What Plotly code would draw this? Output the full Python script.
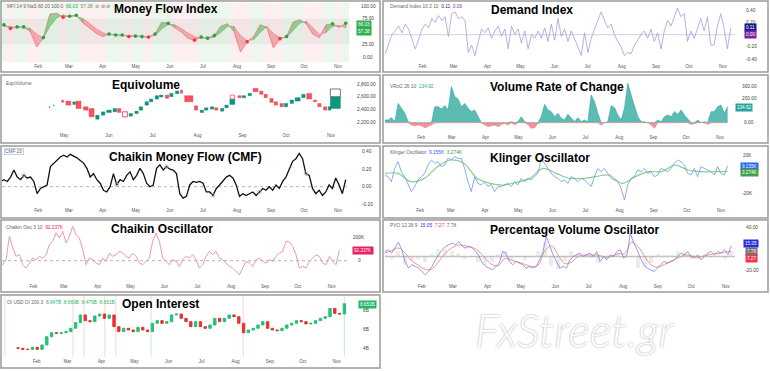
import numpy as np
import pandas as pd
import plotly.graph_objects as go

W, H = 770, 371
FONT = "Liberation Sans, Arial, sans-serif"

# ======================= DATA =======================
months_main = ["2023-02-01", "2023-03-01", "2023-04-01", "2023-05-01", "2023-06-01",
               "2023-07-01", "2023-08-01", "2023-09-01", "2023-10-01", "2023-11-01"]
months_equi = ["2023-05-01", "2023-06-01", "2023-07-01", "2023-08-01", "2023-09-01",
               "2023-10-01", "2023-11-01"]

# Money Flow Index
mfi_start, mfi_end = "2023-01-01", "2023-11-08"
mfi = [63, 56, 59, 59, 50, 20, 38, 84, 86, 78, 80, 82, 67, 57, 47, 40, 45, 43, 43, 40,
       41, 40, 39, 45, 68, 66, 58, 49, 37, 33, 39, 37, 42, 60, 65, 50, 10, 30, 40, 63,
       58, 18, 36, 40, 68, 73, 65, 45, 38, 63, 65, 58, 66.03]
mfi_signal = [60, 60, 58, 58, 56, 45, 37, 60, 76, 83, 80, 80, 76, 66, 56, 48, 44, 43, 43, 42,
              41, 40, 40, 42, 55, 64, 63, 56, 47, 40, 37, 37, 39, 48, 60, 60, 42, 32, 34, 48,
              60, 46, 38, 38, 52, 66, 70, 58, 44, 48, 60, 62, 57.38]
mfi_dot_idx = [0, 1, 2, 3, 6, 9, 10, 11, 16, 17, 18, 19, 20, 21, 22, 23, 25, 29, 30, 31, 32,
               37, 42, 43, 50, 52]

# Demand Index
dmd_start, dmd_end = "2022-12-29", "2023-11-08"
demand = [-0.31, -0.17, 0.00, 0.06, 0.14, 0.03, 0.17, 0.09, -0.06, -0.23,
          -0.09, 0.09, 0.17, 0.11, 0.26, 0.20, 0.31, 0.23, 0.29, -0.03,
          0.34, 0.37, 0.26, 0.29, 0.23, -0.29, -0.17, -0.34, -0.11, 0.09,
          0.03, 0.11, -0.06, 0.06, 0.14, -0.03, 0.09, -0.23, 0.14, 0.00,
          0.09, -0.14, 0.06, -0.23, 0.00, -0.06, 0.06, -0.06, 0.11, -0.11,
          0.17, -0.09, 0.26, -0.03, 0.09, -0.11, 0.06, -0.06, -0.20, -0.34,
          0.03, -0.29, -0.06, 0.09, 0.23, 0.37, 0.23, 0.11, 0.17, 0.00,
          -0.11, -0.20, -0.34, -0.29, -0.31, -0.17, -0.09, 0.00, 0.06, -0.06,
          0.09, -0.11, 0.03, -0.23, 0.06, 0.23, 0.14, 0.29, 0.43, 0.29,
          0.34, -0.11, 0.06, -0.06, 0.11, 0.26, 0.06, 0.29, -0.17, -0.17,
          0.14, 0.34, 0.11, -0.23, 0.11]

# Equivolume boxes (high/low range, width = volume)
eq_dates = ["2023-04-21", "2023-04-24", "2023-04-30", "2023-05-04", "2023-05-08", "2023-05-11",
            "2023-05-16", "2023-05-20", "2023-05-24", "2023-05-28", "2023-06-01", "2023-06-05",
            "2023-06-08", "2023-06-12", "2023-06-16", "2023-06-20", "2023-06-23", "2023-06-27",
            "2023-06-30", "2023-07-04", "2023-07-07", "2023-07-11", "2023-07-14", "2023-07-18",
            "2023-07-21", "2023-07-26", "2023-07-31", "2023-08-04", "2023-08-07", "2023-08-11",
            "2023-08-14", "2023-08-18", "2023-08-21", "2023-08-25", "2023-08-30", "2023-09-02",
            "2023-09-06", "2023-09-10", "2023-09-14", "2023-09-17", "2023-09-21", "2023-09-24",
            "2023-09-28", "2023-10-01", "2023-10-05", "2023-10-09", "2023-10-13", "2023-10-17",
            "2023-10-21", "2023-10-24", "2023-10-28", "2023-10-31", "2023-11-04"]
eq_high = [2445, 2475, 2551, 2535, 2524, 2535, 2445, 2418, 2312, 2365, 2392, 2418, 2418,
           2365, 2339, 2376, 2445, 2524, 2567, 2620, 2630, 2630, 2657, 2694, 2710, 2620,
           2461, 2392, 2429, 2445, 2429, 2418, 2471, 2567, 2620, 2620, 2657, 2736, 2694,
           2641, 2577, 2524, 2498, 2498, 2551, 2588, 2641, 2657, 2551, 2498, 2445, 2445, 2604]
eq_low = [2435, 2465, 2514, 2471, 2482, 2418, 2392, 2286, 2249, 2312, 2355, 2365, 2355,
          2286, 2297, 2339, 2392, 2471, 2524, 2567, 2599, 2577, 2604, 2652, 2657, 2524,
          2392, 2355, 2392, 2408, 2392, 2376, 2429, 2482, 2588, 2588, 2620, 2683, 2641,
          2588, 2514, 2471, 2445, 2445, 2498, 2535, 2588, 2567, 2524, 2445, 2392, 2392, 2418]
eq_up = [1, 1, 0, 0, 1, 0, 0, 0, 1, 1, 1, 1, 0, 0, 1, 1, 1, 1, 1, 1, 1, 0, 1, 1, 0, 0, 0,
         1, 1, 1, 0, 1, 1, 1, 0, 1, 1, 0, 0, 0, 0, 0, 0, 1, 1, 1, 1, 0, 0, 0, 0, 1, 1]
eq_volume = [3, 3, 6, 15, 8, 15, 14, 15, 10, 10, 14, 10, 10, 15, 10, 10, 10, 10, 10, 10, 10,
             10, 10, 10, 6, 25, 10, 10, 10, 10, 10, 10, 10, 15, 10, 10, 10, 15, 10, 10, 10,
             10, 10, 10, 10, 15, 10, 15, 10, 10, 10, 8, 30]
eqh_dates = ["2023-06-12", "2023-08-25", "2023-11-04"]
eqh_high = [2365, 2630, 2726]
eqh_low = [2286, 2567, 2604]
eqh_volume = [15, 12, 30]
eqh_up = [0, 0, 1]

# Volume Rate of Change
vroc_start, vroc_end = "2022-12-30", "2023-11-08"
vroc = [22, 22, 42, 8, 161, 120, 78, 8, -19, -25, -19, -25, -42, -33, -19, 133, 133, 114, 142, 106,
        300, 217, 197, 133, 161, 120, 92, 106, 50, 0, -19, -33, -25, -19, -33, -14, -6, -19, 8, -19,
        8, 50, 8, -14, -47, -42, -6, 50, 153, 106, 92, 50, 78, 36, 22, 70, 36, 8, 42, 8,
        22, 8, 231, 175, 78, -19, 0, 8, 142, 125, 64, 22, 120, 328, 231, 133, 50, 8, 8, 0,
        -19, -47, 22, 8, 50, 64, 50, 92, 70, 106, 64, 36, -14, -6, 22, 0, 8, -14, 92, 92,
        133, 147, 78, 134.62]

# Chaikin Money Flow
cmf_start, cmf_end = "2022-12-29", "2023-11-08"
cmf = [0.06, 0.08, 0.06, 0.11, 0.19, 0.11, 0.08, 0.13, 0.10, 0.11,
       0.06, -0.08, -0.02, 0.00, 0.02, 0.23, 0.27, 0.30, 0.34, 0.36,
       0.34, 0.37, 0.35, 0.33, 0.30, 0.27, 0.21, 0.11, 0.15, 0.08,
       0.04, -0.04, -0.06, 0.00, 0.15, 0.02, 0.08, 0.06, 0.13, 0.17,
       0.08, 0.13, 0.21, 0.15, 0.04, 0.00, 0.02, 0.21, 0.25, 0.19,
       0.23, 0.20, 0.19, 0.15, -0.08, -0.13, -0.11, 0.02, 0.06, 0.05,
       0.06, 0.04, -0.06, -0.06, -0.10, -0.02, 0.02, 0.06, 0.11, 0.13,
       0.10, 0.02, -0.11, -0.08, -0.10, -0.08, -0.06, -0.10, -0.06, -0.02,
       -0.04, 0.00, -0.04, 0.02, -0.02, 0.06, 0.11, 0.21, 0.29, 0.32,
       0.38, 0.32, 0.15, 0.13, -0.02, -0.08, -0.04, -0.10, -0.06, 0.02,
       -0.02, 0.10, 0.02, -0.08, 0.08]
cmf_mark_idx = [7, 35, 50, 64, 78, 92]

# Klinger Oscillator (thousands)
kl_start, kl_end = "2022-12-31", "2023-11-07"
klinger = [-0.5, -2.3, -7.6, 6.5, 13.6, 3.0, -2.3, -11.2, -18.2, -12.9,
           -5.8, -2.3, 1.2, 10.1, 15.4, 11.9, 13.6, 8.3, 10.1, 17.2,
           15.4, 18.9, 17.2, 17.2, 6.5, -7.6, -18.2, -2.3, -9.4, -11.2,
           -7.6, -12.9, -10.4, -18.2, -12.9, -12.9, -11.2, -9.4, -12.9, -7.6,
           -11.2, -4.1, -7.6, -4.1, -5.8, -2.3, 1.2, 17.2, 11.9, 6.5,
           1.2, -2.3, -4.1, -7.6, -5.8, -9.4, -2.3, -4.1, -7.6, -4.1,
           -5.8, -9.4, -12.9, -2.3, 6.5, 3.0, 6.5, 1.2, -4.1, -5.8,
           -7.6, -14.7, -27.1, -11.2, -4.1, -2.3, 4.8, 3.0, 6.5, 1.2,
           3.0, -2.3, -0.5, 6.5, 4.8, 3.0, 6.5, 11.9, 15.4, 13.6,
           10.1, 1.2, -0.5, 6.5, -2.3, 8.3, 6.5, 4.8, 3.0, -0.5,
           8.3, 1.2, -0.5, 9.155]
klinger_signal = [1.2, 1.2, -7.6, -4.1, 8.3, 15.4, 11.9, -4.1, -9.4, -11.2, -8.3, -4.1, 6.5,
                  1.2, -4.1, -4.1, -2.3, -0.5, -9.4, -2.3, 3.0, 3.0, 10.1, 4.8, 3.0, 3.0, 3.274]

# Chaikin Oscillator (thousands)
cho_start, cho_end = "2023-01-01", "2023-11-08"
chaikin = [-21, -35, 9, 215, 112, 38, 53, -35, -65, -21,
           24, 9, 38, 24, 53, 141, 171, 244, 200, 259,
           156, 215, 303, 229, 200, 97, -35, 24, 9, -21,
           -35, 24, -6, 68, 38, 53, 82, 68, 38, 24,
           68, 38, -21, -35, -6, 24, 171, 244, 171, 24,
           -6, -35, 9, -6, -50, 9, 38, 24, 53, 9,
           -65, -35, 38, 82, 53, 82, 24, 9, -21, -50,
           -65, -94, -123, -65, -6, -21, -50, 9, 24, -6,
           -21, 9, -6, 38, 68, 82, 171, 165, 126, 53,
           -65, -50, -65, -6, 24, 53, 38, -21, -35, 38,
           -6, -35, 92.237]

# Percentage Volume Oscillator
pvo_start, pvo_end = "2022-12-30", "2023-11-06"
pvo = [7, 9.4, 4.7, 11.7, 20.1, 9.4, -7, -16.4, -11.7, -14,
       -16.4, -21, -25.7, -21, -14, -4.7, 2.3, 9.4, 14, 16.4,
       18.7, 16.4, 21, 14, 11.7, 14, 11.7, 7, 0, -9.4,
       -14, -16.4, -18.7, -14, -9.4, 7, 4.7, -7, -11.7, -7,
       -9.4, -11.7, -16.4, -14, -16.4, -14, -4.7, 7, 28, 14,
       2.3, -7, -16.4, -14, -16.4, -4.7, 0, 2.3, 4.7, 0,
       2.3, 4.7, 0, 7, -7, 0, -4.7, 2.3, 0, 7,
       9.4, -2.3, 2.3, 32.8, 18.7, 9.4, -2.3, -11.7, -16.4, -18.7,
       -21, -16.4, -11.7, -7, -9.4, -7, -4.7, 0, 4.7, 2.3,
       7, 0, -2.3, 2.3, -4.7, 0, 4.7, 7, 2.3, 7,
       4.7, 9.4, 2.3, 15.05]
pvo_signal = [5, 8, 12, 5, -6, -12, -18, -18, -8, 4, 12, 16, 15, 13, 8, -2, -11, -13, -3, -5,
              -8, -11, -14, -12, 8, 15, 2, -10, -8, 0, 2, 2, 2, -1, 0, 4, 4, 20, 14, 0,
              -12, -15, -11, -7, -2, 2, 1, -1, 1, 3, 4, 6, 7.27]
pvo_hist = [2, -3, 8, -12, -6, -4, -8, 4, 10, 10, 7, 5, -3, -1, -8, -12, -8, 4, 8, -7,
            -1, -5, -2, 7, 20, -13, -18, -6, 8, 5, 0, -2, -9, -4, 0, 5, -2, -1, -16, -16,
            -9, 3, 2, 2, 7, 5, -3, -4, 4, -1, 1, -4, 7.78]

# Open Interest (billions USD)
oi_start, oi_end = "2023-01-15", "2023-11-08"
oi_close = [4.0, 3.89, 3.89, 4.1, 3.89, 4.35, 5.2, 5.63, 5.56, 5.63, 5.74, 6.09, 6.68, 7.48,
            6.89, 6.78, 7.37, 7.58, 7.13, 7.48, 6.26, 5.74, 6.09, 5.91, 5.74, 6.19, 5.91, 5.74,
            6.61, 6.89, 6.61, 6.78, 7.48, 7.58, 7.13, 6.78, 6.26, 6.78, 6.26, 6.09, 6.43, 7.13,
            6.78, 7.13, 7.48, 7.3, 6.61, 5.63, 5.91, 6.09, 6.43, 6.78, 6.09, 5.91, 5.84, 6.09,
            6.43, 6.61, 6.89, 6.78, 6.54, 6.61, 6.89, 7.13, 7.3, 8.17, 7.65, 7.58, 8.651]
oi_open_first = 4.05
oi_events_down = ["2023-01-03", "2023-03-06", "2023-03-16", "2023-04-04", "2023-04-14", "2023-08-08"]
oi_events_up = ["2023-05-16", "2023-11-08"]

# ======================= LAYOUT HELPERS =======================
PANELS = [
    dict(box=(1, 1, 380, 72), px=(2, 350), py=(3, 62), xcal=(("2023-02-01", 38), ("2023-11-01", 338)),
         ycal=((100, 6), (0, 57)), months=months_main, ylab_x=368),
    dict(box=(383, 1, 768, 72), px=(385, 735), py=(3, 62), xcal=(("2023-02-01", 422.7), ("2023-11-01", 723)),
         ycal=((0.4, 10), (-0.4, 59.3)), months=months_main, ylab_x=751),
    dict(box=(1, 75, 380, 143), px=(2, 350), py=(76, 131), xcal=(("2023-05-01", 64), ("2023-11-01", 331)),
         ycal=((2800, 84.3), (2200, 122.3)), months=months_equi, ylab_x=366),
    dict(box=(383, 75, 768, 143), px=(385, 735), py=(76, 133), xcal=(("2023-02-01", 421), ("2023-11-01", 720)),
         ycal=((300, 86.7), (0, 122.7)), months=months_main, ylab_x=749),
    dict(box=(1, 146, 380, 218), px=(2, 350), py=(147, 206), xcal=(("2023-02-01", 38), ("2023-11-01", 338)),
         ycal=((0.4, 151.7), (0.0, 186.7)), months=months_main, ylab_x=367),
    dict(box=(383, 146, 768, 218), px=(385, 735), py=(147, 206), xcal=(("2023-02-01", 420), ("2023-11-01", 721)),
         ycal=((20, 155.7), (-20, 193.3)), months=months_main, ylab_x=747),
    dict(box=(1, 220, 380, 292), px=(2, 350), py=(221, 282), xcal=(("2023-02-01", 33.3), ("2023-11-01", 331.7)),
         ycal=((200, 238), (0, 260.7)), months=months_main, ylab_x=359),
    dict(box=(383, 220, 768, 292), px=(385, 735), py=(221, 282), xcal=(("2023-02-01", 421.7), ("2023-11-01", 725.7)),
         ycal=((40, 228), (-20, 270.7)), months=months_main, ylab_x=752),
    dict(box=(1, 295, 380, 368), px=(2, 350), py=(296, 357), xcal=(("2023-02-01", 36.7), ("2023-11-01", 336.7)),
         ycal=((8, 310), (4, 348.3)), months=months_main, ylab_x=366),
]


def xdate(cal, p):
    (d1, p1), (d2, p2) = cal
    t1, t2 = pd.Timestamp(d1), pd.Timestamp(d2)
    return t1 + (t2 - t1) * ((p - p1) / (p2 - p1))


def yval(cal, p):
    (v1, p1), (v2, p2) = cal
    return v1 + (v2 - v1) * (p - p1) / (p2 - p1)


def ax(k, letter):
    return letter if k == 1 else f"{letter}{k}"


def step_ms(start, end, n):
    return (pd.Timestamp(end) - pd.Timestamp(start)).total_seconds() * 1000 / (n - 1)


DAY_MS = 86400000.0
fig = go.Figure()
annotations = []
shapes = []


def ann_px(x, y, text, size=4.8, color="#666", xanchor="left", yanchor="middle", **kw):
    d = dict(x=x / W, y=1 - y / H, xref="paper", yref="paper", text=text, showarrow=False,
             xanchor=xanchor, yanchor=yanchor, font=dict(size=size, color=color, family=FONT))
    d.update(kw)
    return d


def value_box(x, y, text, bg):
    return ann_px(x, y, text, size=4.6, color="white", xanchor="center", bgcolor=bg, borderpad=1)


def ytick(k, value, text):
    P = PANELS[k - 1]
    return dict(x=P["ylab_x"] / W, xref="paper", y=value, yref=ax(k, "y"), text=text, showarrow=False,
                xanchor="center", yanchor="middle", font=dict(size=4.8, color="#444", family=FONT))


def hline(k, y, color, width=1, dash="solid"):
    return dict(type="line", xref=f"{ax(k, 'x')} domain", yref=ax(k, "y"), x0=0, x1=1, y0=y, y1=y,
                line=dict(color=color, width=width, dash=dash), layer="below")


# ======================= 1. MFI =======================
mfi_d = pd.date_range(mfi_start, mfi_end, periods=len(mfi))
mstep = step_ms(mfi_start, mfi_end, len(mfi))
mfi_up = [a >= b for a, b in zip(mfi, mfi_signal)]
fig.add_trace(go.Bar(x=mfi_d, y=[116] * len(mfi), base=-10, width=mstep,
                     marker=dict(color=["rgba(76,175,80,0.10)" if u else "rgba(242,54,69,0.08)" for u in mfi_up],
                                 line=dict(width=0)), xaxis="x", yaxis="y", hoverinfo="skip"))
shapes.append(dict(type="rect", xref="x domain", yref="y", x0=0, x1=1, y0=25, y1=75,
                   fillcolor="rgba(120,120,120,0.08)", line=dict(width=0), layer="below"))
start = 0
n = len(mfi)
for i in range(1, n + 1):
    if i == n or mfi_up[i] != mfi_up[start]:
        end = min(i, n - 1)
        idx = list(range(start, end + 1))
        xs = [mfi_d[j] for j in idx] + [mfi_d[j] for j in reversed(idx)]
        ys = [mfi[j] for j in idx] + [mfi_signal[j] for j in reversed(idx)]
        up = mfi_up[start]
        fig.add_trace(go.Scatter(x=xs, y=ys, fill="toself", mode="lines",
                                 fillcolor="rgba(76,175,80,0.55)" if up else "rgba(242,54,69,0.35)",
                                 line=dict(width=0.6, color="rgba(76,175,80,0.8)" if up else "rgba(242,54,69,0.5)"),
                                 xaxis="x", yaxis="y", hoverinfo="skip"))
        start = i
fig.add_trace(go.Scatter(x=mfi_d, y=mfi, mode="lines", line=dict(color="#ef8a8a", width=0.8),
                         xaxis="x", yaxis="y"))
fig.add_trace(go.Scatter(x=[mfi_d[i] for i in mfi_dot_idx], y=[mfi[i] for i in mfi_dot_idx], mode="markers",
                         marker=dict(size=3.6, color=["#2e9d48" if mfi_up[i] else "#f23645" for i in mfi_dot_idx]),
                         xaxis="x", yaxis="y"))

# ======================= 2. Demand Index =======================
dmd_d = pd.date_range(dmd_start, dmd_end, periods=len(demand))
shapes.append(hline(2, 0, "#d6d2ea", 1))
fig.add_trace(go.Scatter(x=dmd_d, y=demand, mode="lines", line=dict(color="#a59cdc", width=0.8),
                         xaxis="x2", yaxis="y2"))

# ======================= 3. Equivolume =======================
EQ_DAYS_PER_VOL = 0.23
fig.add_trace(go.Bar(x=eq_dates, y=[h - l for h, l in zip(eq_high, eq_low)], base=eq_low,
                     width=[v * EQ_DAYS_PER_VOL * DAY_MS for v in eq_volume],
                     marker=dict(color=["#089981" if u else "#f7525f" for u in eq_up],
                                 line=dict(width=0.4, color=["#067a67" if u else "#e0434f" for u in eq_up])),
                     xaxis="x3", yaxis="y3"))
fig.add_trace(go.Bar(x=eqh_dates, y=[h - l for h, l in zip(eqh_high, eqh_low)], base=eqh_low,
                     width=[v * EQ_DAYS_PER_VOL * DAY_MS for v in eqh_volume],
                     marker=dict(color="white",
                                 line=dict(width=0.8, color=["#555555" if u else "#f7525f" for u in eqh_up])),
                     xaxis="x3", yaxis="y3"))

# ======================= 4. VROC =======================
vroc_d = pd.date_range(vroc_start, vroc_end, periods=len(vroc))
vr = np.array(vroc, dtype=float)
fig.add_trace(go.Scatter(x=vroc_d, y=np.maximum(vr, 0), mode="lines", fill="tozeroy",
                         fillcolor="rgba(38,166,154,0.75)", line=dict(color="#26a69a", width=0.6),
                         xaxis="x4", yaxis="y4"))
fig.add_trace(go.Scatter(x=vroc_d, y=np.minimum(vr, 0), mode="lines", fill="tozeroy",
                         fillcolor="rgba(242,54,69,0.55)", line=dict(color="#f77c80", width=0.6),
                         xaxis="x4", yaxis="y4"))

# ======================= 5. CMF =======================
cmf_d = pd.date_range(cmf_start, cmf_end, periods=len(cmf))
shapes.append(hline(5, 0, "#9e9e9e", 0.8, "dot"))
fig.add_trace(go.Scatter(x=cmf_d, y=cmf, mode="lines", line=dict(color="#111111", width=1.3),
                         xaxis="x5", yaxis="y5"))
fig.add_trace(go.Scatter(x=[cmf_d[i] for i in cmf_mark_idx], y=[cmf[i] for i in cmf_mark_idx], mode="markers",
                         marker=dict(size=3.5, color="rgba(140,175,230,0.8)", symbol="circle-open",
                                     line=dict(width=1, color="#9bb8e6")),
                         xaxis="x5", yaxis="y5"))

# ======================= 6. Klinger =======================
kl_d = pd.date_range(kl_start, kl_end, periods=len(klinger))
kls_d = pd.date_range(kl_start, kl_end, periods=len(klinger_signal))
fig.add_trace(go.Scatter(x=kls_d, y=klinger_signal, mode="lines", line=dict(color="#8ccf8c", width=1.2, shape="spline"),
                         xaxis="x6", yaxis="y6"))
fig.add_trace(go.Scatter(x=kl_d, y=klinger, mode="lines", line=dict(color="#6b97ef", width=0.8),
                         xaxis="x6", yaxis="y6"))

# ======================= 7. Chaikin Oscillator =======================
cho_d = pd.date_range(cho_start, cho_end, periods=len(chaikin))
shapes.append(hline(7, 0, "#a0a0a0", 0.8, "dot"))
fig.add_trace(go.Scatter(x=cho_d, y=chaikin, mode="lines", line=dict(color="#e98bab", width=0.9),
                         xaxis="x7", yaxis="y7"))

# ======================= 8. PVO =======================
pvo_d = pd.date_range(pvo_start, pvo_end, periods=len(pvo))
pvs_d = pd.date_range(pvo_start, pvo_end, periods=len(pvo_signal))
pstep = step_ms(pvo_start, pvo_end, len(pvo_hist))
shapes.append(hline(8, 0, "#c4c4c4", 1.4))
fig.add_trace(go.Bar(x=pvs_d, y=pvo_hist, width=pstep * 0.6,
                     marker=dict(color="rgba(170,170,170,0.22)", line=dict(width=0)),
                     xaxis="x8", yaxis="y8"))
fig.add_trace(go.Scatter(x=pvs_d, y=pvo_signal, mode="lines", line=dict(color="#f08a7a", width=0.9, shape="spline"),
                         xaxis="x8", yaxis="y8"))
fig.add_trace(go.Scatter(x=pvo_d, y=pvo, mode="lines", line=dict(color="#7f7fe8", width=0.8),
                         xaxis="x8", yaxis="y8"))

# ======================= 9. Open Interest =======================
oi_d = pd.date_range(oi_start, oi_end, periods=len(oi_close))
oi_open = [oi_open_first] + oi_close[:-1]
for d in oi_events_down:
    shapes.append(dict(type="line", xref="x9", yref="y9 domain", x0=d, x1=d, y0=0, y1=1,
                       line=dict(color="rgba(242,54,69,0.22)", width=1), layer="below"))
for d in oi_events_up:
    shapes.append(dict(type="line", xref="x9", yref="y9 domain", x0=d, x1=d, y0=0, y1=1,
                       line=dict(color="rgba(38,166,154,0.25)", width=1), layer="below"))
fig.add_trace(go.Candlestick(x=oi_d, open=oi_open, close=oi_close,
                             high=[max(o, c) for o, c in zip(oi_open, oi_close)],
                             low=[min(o, c) for o, c in zip(oi_open, oi_close)],
                             increasing=dict(line=dict(color="#22c27a", width=1), fillcolor="#22c27a"),
                             decreasing=dict(line=dict(color="#e5332f", width=1), fillcolor="#e5332f"),
                             whiskerwidth=0, xaxis="x9", yaxis="y9"))

# ======================= AXES =======================
layout = dict(width=W, height=H, margin=dict(l=0, r=0, t=0, b=0), paper_bgcolor="white",
              plot_bgcolor="white", showlegend=False, barmode="overlay", bargap=0, hovermode=False)
for k, P in enumerate(PANELS, start=1):
    xl, xr = P["px"]
    yt, yb = P["py"]
    layout["xaxis" if k == 1 else f"xaxis{k}"] = dict(
        domain=[xl / W, xr / W], type="date",
        range=[str(xdate(P["xcal"], xl)), str(xdate(P["xcal"], xr))],
        anchor=ax(k, "y"), tickvals=P["months"], tickformat="%b",
        showgrid=False, zeroline=False, showline=False, ticks="",
        tickfont=dict(size=4.5, color="#555", family=FONT), fixedrange=True,
        rangeslider=dict(visible=False))
    layout["yaxis" if k == 1 else f"yaxis{k}"] = dict(
        domain=[1 - yb / H, 1 - yt / H], range=[yval(P["ycal"], yb), yval(P["ycal"], yt)],
        anchor=ax(k, "x"), showticklabels=False, showgrid=False, zeroline=False,
        showline=False, ticks="", fixedrange=True)
    x0, y0, x1, y1 = P["box"]
    shapes.append(dict(type="rect", xref="paper", yref="paper", x0=x0 / W, x1=x1 / W,
                       y0=1 - y1 / H, y1=1 - y0 / H, line=dict(color="#9a9a9a", width=1.5),
                       fillcolor="rgba(0,0,0,0)", layer="above"))

# y tick labels
for v, t in [(100, "100.00"), (75, "75.00"), (25, "25.00"), (0, "0.00")]:
    annotations.append(ytick(1, v, t))
for v, t in [(0.4, "0.40"), (0.2, "0.20"), (-0.2, "-0.20"), (-0.4, "-0.40")]:
    annotations.append(ytick(2, v, t))
for v, t in [(2800, "2,800.00"), (2600, "2,600.00"), (2400, "2,400.00"), (2200, "2,200.00")]:
    annotations.append(ytick(3, v, t))
for v, t in [(300, "300.00"), (200, "200.00"), (0, "0.00")]:
    annotations.append(ytick(4, v, t))
for v, t in [(0.4, "0.40"), (0.2, "0.20"), (0.0, "0.00"), (-0.2, "-0.20")]:
    annotations.append(ytick(5, v, t))
for v, t in [(20, "20K"), (-20, "-20K")]:
    annotations.append(ytick(6, v, t))
for v, t in [(200, "200K"), (0, "0")]:
    annotations.append(ytick(7, v, t))
for v, t in [(40, "40.00"), (-20, "-20.00")]:
    annotations.append(ytick(8, v, t))
for v, t in [(8, "8B"), (6, "6B"), (4, "4B")]:
    annotations.append(ytick(9, v, t))

# value boxes
annotations += [
    value_box(364, 24, "66.03", "#2fae4e"), value_box(364, 31, "57.38", "#2fae4e"),
    value_box(750, 27, "0.11", "#1b1b8f"), value_box(750, 34, "0.00", "#7b1fa2"),
    value_box(744, 108, "134.62", "#26a69a"),
    value_box(749, 166, "9.155K", "#2962ff"), value_box(749, 172.5, "3.274K", "#43a047"),
    value_box(363, 250, "92.237K", "#e91e63"),
    value_box(751, 243.7, "15.05", "#2a2ae0"), value_box(751, 251.2, "7.78", "#707070"),
    value_box(751, 258.7, "7.27", "#f23645"),
    value_box(367, 304, "8.651B", "#22b76a"),
]

# legends (top-left of each pane)
annotations += [
    ann_px(5, 7, 'MFI 14 9 NaS 80 20 100 0  <span style="color:#2fae4e">66.03  57.38</span>  ⊘ ⊘ ⊘'),
    ann_px(388, 7, 'Demand Index 10 2 10  <span style="color:#1b1b8f">0.11</span>  <span style="color:#7b1fa2">0.00</span>'),
    ann_px(4, 84, 'EquiVolume'),
    ann_px(388, 87, 'VRoC 26 10  <span style="color:#26a69a">134.62</span>'),
    ann_px(4, 151, 'CMF 20', bordercolor="#9bb8e6", borderwidth=0.6, borderpad=0.5),
    ann_px(388, 152, 'Klinger Oscillator  <span style="color:#2962ff">9.155K</span>  <span style="color:#43a047">3.274K</span>'),
    ann_px(4, 227, 'Chaikin Osc 3 10  <span style="color:#e91e63">92.237K</span>'),
    ann_px(388, 225, 'PVO 12 26 9  <span style="color:#2a2ae0">15.05</span>  <span style="color:#f23645">7.27</span>  7.78'),
    ann_px(5, 302.5, 'OI USD OI 200 3  <span style="color:#22b76a">8.647B  8.669B  8.479B  8.651B</span>'),
]

# titles
for txt, cx, cy in [("Money Flow Index", 166, 8.5), ("Demand Index", 532, 10),
                    ("Equivolume", 146, 84.5), ("Volume Rate of Change", 557, 86.5),
                    ("Chaikin Money Flow (CMF)", 185, 156.5), ("Klinger Oscillator", 540, 157.5),
                    ("Chaikin Oscillator", 162, 228.5), ("Percentage Volume Oscillator", 575, 230),
                    ("Open Interest", 160, 304)]:
    annotations.append(ann_px(cx, cy, f"<b>{txt}</b>", size=12, color="#000000", xanchor="center"))

# watermark
annotations.append(dict(x=575 / W, y=1 - 329 / H, xref="paper", yref="paper", text="FxStreet.gr",
                        showarrow=False, xanchor="center", yanchor="middle",
                        font=dict(family="Lato, sans-serif", size=46, color="#ffffff", style="italic",
                                  weight=300, shadow="0px 0px 2px #9a9a9a")))

layout["annotations"] = annotations
layout["shapes"] = shapes
fig.update_layout(**layout)
fig.write_html("out.html", config={"displayModeBar": False, "staticPlot": True},
               post_script="document.body.style.margin='0px';")
